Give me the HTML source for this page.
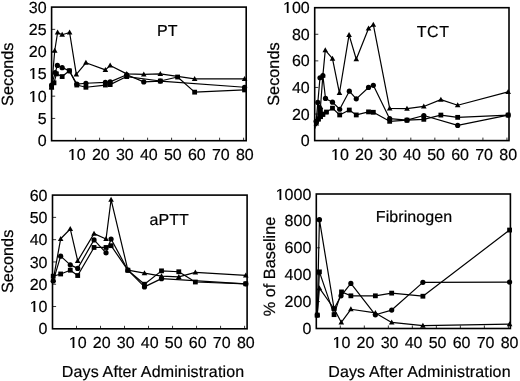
<!DOCTYPE html><html><head><meta charset="utf-8"><style>html,body{margin:0;padding:0;background:#fff;}body{width:520px;height:381px;overflow:hidden;}svg{display:block;filter:grayscale(1);}text{font-family:"Liberation Sans",sans-serif;text-rendering:geometricPrecision;fill:#000;stroke:#000;stroke-width:0.2px;}</style></head><body>
<svg width="520" height="381" viewBox="0 0 520 381">
<rect x="51.6" y="7.1" width="194.6" height="133.6" fill="none" stroke="#000" stroke-width="1.6"/>
<path d="M51.6 118.43h3.6 M51.6 96.17h3.6 M51.6 73.9h3.6 M51.6 51.63h3.6 M51.6 29.37h3.6 M75.6 140.7v-3 M99.6 140.7v-3 M123.6 140.7v-3 M147.6 140.7v-3 M171.6 140.7v-3 M195.6 140.7v-3 M219.6 140.7v-3 M243.6 140.7v-3" stroke="#000" stroke-width="0.8" fill="none"/>
<text x="46.6" y="146" font-size="16" text-anchor="end">0</text>
<text x="46.6" y="124" font-size="16" text-anchor="end">5</text>
<text x="46.6" y="102" font-size="16" text-anchor="end"> 0</text>
<text x="46.6" y="79" font-size="16" text-anchor="end"> 5</text>
<text x="46.6" y="57" font-size="16" text-anchor="end">20</text>
<text x="46.6" y="35" font-size="16" text-anchor="end">25</text>
<text x="46.6" y="13" font-size="16" text-anchor="end">30</text>
<text x="76.8" y="160" font-size="16" text-anchor="middle"> 0</text>
<text x="100.8" y="160" font-size="16" text-anchor="middle">20</text>
<text x="124.8" y="160" font-size="16" text-anchor="middle">30</text>
<text x="148.8" y="160" font-size="16" text-anchor="middle">40</text>
<text x="172.8" y="160" font-size="16" text-anchor="middle">50</text>
<text x="196.8" y="160" font-size="16" text-anchor="middle">60</text>
<text x="220.8" y="160" font-size="16" text-anchor="middle">70</text>
<text x="244.8" y="160" font-size="16" text-anchor="middle">80</text>
<text x="157" y="36.3" font-size="16" letter-spacing="0.08">PT</text>
<text transform="translate(13.3,74.2) rotate(-90)" font-size="16.3" text-anchor="middle">Seconds</text>
<path d="M51.6 87.26 L54.72 50.74 L57.6 32.48 L62.16 34.71 L69.6 32.48 L76.32 74.35 L85.92 62.77 L105.36 69.89 L110.16 65.44 L126.72 73.9 L143.76 74.35 L160.32 73.9 L194.64 78.8 L244.56 78.8" stroke="#000" stroke-width="1.2" fill="none" stroke-linejoin="round"/>
<path d="M51.6 85.03 L55.2 72.56 L57.36 65.44 L62.16 67.67 L69.36 70.78 L76.8 84.14 L85.92 83.25 L105.36 82.36 L110.16 81.92 L126.72 74.79 L143.76 81.92 L160.32 81.03 L244.56 87.26" stroke="#000" stroke-width="1.2" fill="none" stroke-linejoin="round"/>
<path d="M51.6 87.26 L54 82.81 L56.4 73.9 L62.16 76.57 L69.36 70.78 L76.8 85.03 L85.92 87.26 L105.36 85.03 L110.16 84.59 L126.72 76.57 L160.32 81.03 L177.6 77.02 L194.64 92.16 L244.56 89.93" stroke="#000" stroke-width="1.2" fill="none" stroke-linejoin="round"/>
<path d="M51.6 84.36L54.4 89.36L48.8 89.36Z"/>
<path d="M54.72 47.84L57.52 52.84L51.92 52.84Z"/>
<path d="M57.6 29.58L60.4 34.58L54.8 34.58Z"/>
<path d="M62.16 31.81L64.96 36.81L59.36 36.81Z"/>
<path d="M69.6 29.58L72.4 34.58L66.8 34.58Z"/>
<path d="M76.32 71.45L79.12 76.45L73.52 76.45Z"/>
<path d="M85.92 59.87L88.72 64.87L83.12 64.87Z"/>
<path d="M105.36 66.99L108.16 71.99L102.56 71.99Z"/>
<path d="M110.16 62.54L112.96 67.54L107.36 67.54Z"/>
<path d="M126.72 71L129.52 76L123.92 76Z"/>
<path d="M143.76 71.45L146.56 76.45L140.96 76.45Z"/>
<path d="M160.32 71L163.12 76L157.52 76Z"/>
<path d="M194.64 75.9L197.44 80.9L191.84 80.9Z"/>
<path d="M244.56 75.9L247.36 80.9L241.76 80.9Z"/>
<circle cx="51.6" cy="85.03" r="2.6"/>
<circle cx="55.2" cy="72.56" r="2.6"/>
<circle cx="57.36" cy="65.44" r="2.6"/>
<circle cx="62.16" cy="67.67" r="2.6"/>
<circle cx="69.36" cy="70.78" r="2.6"/>
<circle cx="76.8" cy="84.14" r="2.6"/>
<circle cx="85.92" cy="83.25" r="2.6"/>
<circle cx="105.36" cy="82.36" r="2.6"/>
<circle cx="110.16" cy="81.92" r="2.6"/>
<circle cx="126.72" cy="74.79" r="2.6"/>
<circle cx="143.76" cy="81.92" r="2.6"/>
<circle cx="160.32" cy="81.03" r="2.6"/>
<circle cx="244.56" cy="87.26" r="2.6"/>
<rect x="49.2" y="84.86" width="4.8" height="4.8"/>
<rect x="51.6" y="80.41" width="4.8" height="4.8"/>
<rect x="54" y="71.5" width="4.8" height="4.8"/>
<rect x="59.76" y="74.17" width="4.8" height="4.8"/>
<rect x="66.96" y="68.38" width="4.8" height="4.8"/>
<rect x="74.4" y="82.63" width="4.8" height="4.8"/>
<rect x="83.52" y="84.86" width="4.8" height="4.8"/>
<rect x="102.96" y="82.63" width="4.8" height="4.8"/>
<rect x="107.76" y="82.19" width="4.8" height="4.8"/>
<rect x="124.32" y="74.17" width="4.8" height="4.8"/>
<rect x="157.92" y="78.63" width="4.8" height="4.8"/>
<rect x="175.2" y="74.62" width="4.8" height="4.8"/>
<rect x="192.24" y="89.76" width="4.8" height="4.8"/>
<rect x="242.16" y="87.53" width="4.8" height="4.8"/>
<rect x="314.7" y="7.7" width="194.3" height="132.9" fill="none" stroke="#000" stroke-width="1.6"/>
<path d="M314.7 114.02h3.6 M314.7 87.44h3.6 M314.7 60.86h3.6 M314.7 34.28h3.6 M338.73 140.6v-3 M362.76 140.6v-3 M386.79 140.6v-3 M410.82 140.6v-3 M434.85 140.6v-3 M458.88 140.6v-3 M482.91 140.6v-3 M506.94 140.6v-3" stroke="#000" stroke-width="0.8" fill="none"/>
<text x="309.7" y="146" font-size="16" text-anchor="end">0</text>
<text x="309.7" y="120" font-size="16" text-anchor="end">20</text>
<text x="309.7" y="93" font-size="16" text-anchor="end">40</text>
<text x="309.7" y="66" font-size="16" text-anchor="end">60</text>
<text x="309.7" y="40" font-size="16" text-anchor="end">80</text>
<text x="309.7" y="13" font-size="16" text-anchor="end"> 00</text>
<text x="339.93" y="160" font-size="16" text-anchor="middle"> 0</text>
<text x="363.96" y="160" font-size="16" text-anchor="middle">20</text>
<text x="387.99" y="160" font-size="16" text-anchor="middle">30</text>
<text x="412.02" y="160" font-size="16" text-anchor="middle">40</text>
<text x="436.05" y="160" font-size="16" text-anchor="middle">50</text>
<text x="460.08" y="160" font-size="16" text-anchor="middle">60</text>
<text x="484.11" y="160" font-size="16" text-anchor="middle">70</text>
<text x="508.14" y="160" font-size="16" text-anchor="middle">80</text>
<text x="416.8" y="36.6" font-size="16" letter-spacing="0.5">TCT</text>
<text transform="translate(279.3,74.1) rotate(-90)" font-size="16.3" text-anchor="middle">Seconds</text>
<path d="M316.38 123.32 L320.47 106.98 L322.87 75.48 L325.27 50.1 L332.48 58.73 L339.45 93.02 L349.06 34.81 L356.27 59.27 L368.53 28.43 L373.33 24.71 L389.67 108.44 L406.98 108.7 L423.8 106.44 L440.86 99.67 L457.68 105.25 L508.14 91.83" stroke="#000" stroke-width="1.2" fill="none" stroke-linejoin="round"/>
<path d="M316.14 121.33 L317.82 102.46 L319.99 77.74 L322.87 75.48 L325.51 98.47 L332.48 102.19 L339.69 109.24 L349.3 91.16 L356.27 98.87 L368.53 87.44 L373.33 85.31 L389.67 118.67 L406.98 120.13 L423.8 115.48 L457.68 125.45 L508.14 115.08" stroke="#000" stroke-width="1.2" fill="none" stroke-linejoin="round"/>
<path d="M315.42 126.11 L316.38 121.4 L318.3 119 L320.4 116.68 L322.8 114.29 L326.47 112.03 L332.48 108.17 L339.69 114.95 L349.3 110.03 L356.27 114.95 L368.53 111.89 L373.33 112.29 L389.67 121.33 L406.98 120.13 L423.8 119.34 L440.86 115.08 L457.68 117.34 L508.14 115.08" stroke="#000" stroke-width="1.2" fill="none" stroke-linejoin="round"/>
<path d="M317.4 105H319.8L322.8 109V111.8H328V114.3H325.2V116.7H322.8V119H320.7V121.4H318.8V123.8H317.1V126.2H315.7V128.6H314.4V119H317.4Z"/>
<path d="M316.38 120.42L319.18 125.42L313.58 125.42Z"/>
<path d="M320.47 104.08L323.27 109.08L317.67 109.08Z"/>
<path d="M322.87 72.58L325.67 77.58L320.07 77.58Z"/>
<path d="M325.27 47.2L328.07 52.2L322.47 52.2Z"/>
<path d="M332.48 55.83L335.28 60.83L329.68 60.83Z"/>
<path d="M339.45 90.12L342.25 95.12L336.65 95.12Z"/>
<path d="M349.06 31.91L351.86 36.91L346.26 36.91Z"/>
<path d="M356.27 56.37L359.07 61.37L353.47 61.37Z"/>
<path d="M368.53 25.53L371.33 30.53L365.73 30.53Z"/>
<path d="M373.33 21.81L376.13 26.81L370.53 26.81Z"/>
<path d="M389.67 105.54L392.47 110.54L386.87 110.54Z"/>
<path d="M406.98 105.8L409.78 110.8L404.18 110.8Z"/>
<path d="M423.8 103.54L426.6 108.54L421 108.54Z"/>
<path d="M440.86 96.77L443.66 101.77L438.06 101.77Z"/>
<path d="M457.68 102.35L460.48 107.35L454.88 107.35Z"/>
<path d="M508.14 88.93L510.94 93.93L505.34 93.93Z"/>
<circle cx="316.14" cy="121.33" r="2.6"/>
<circle cx="317.82" cy="102.46" r="2.6"/>
<circle cx="319.99" cy="77.74" r="2.6"/>
<circle cx="322.87" cy="75.48" r="2.6"/>
<circle cx="325.51" cy="98.47" r="2.6"/>
<circle cx="332.48" cy="102.19" r="2.6"/>
<circle cx="339.69" cy="109.24" r="2.6"/>
<circle cx="349.3" cy="91.16" r="2.6"/>
<circle cx="356.27" cy="98.87" r="2.6"/>
<circle cx="368.53" cy="87.44" r="2.6"/>
<circle cx="373.33" cy="85.31" r="2.6"/>
<circle cx="389.67" cy="118.67" r="2.6"/>
<circle cx="406.98" cy="120.13" r="2.6"/>
<circle cx="423.8" cy="115.48" r="2.6"/>
<circle cx="457.68" cy="125.45" r="2.6"/>
<circle cx="508.14" cy="115.08" r="2.6"/>
<rect x="313.98" y="119" width="4.8" height="4.8"/>
<rect x="315.9" y="116.6" width="4.8" height="4.8"/>
<rect x="318" y="114.28" width="4.8" height="4.8"/>
<rect x="320.4" y="111.89" width="4.8" height="4.8"/>
<rect x="324.07" y="109.63" width="4.8" height="4.8"/>
<rect x="330.08" y="105.77" width="4.8" height="4.8"/>
<rect x="337.29" y="112.55" width="4.8" height="4.8"/>
<rect x="346.9" y="107.63" width="4.8" height="4.8"/>
<rect x="353.87" y="112.55" width="4.8" height="4.8"/>
<rect x="366.13" y="109.49" width="4.8" height="4.8"/>
<rect x="370.93" y="109.89" width="4.8" height="4.8"/>
<rect x="387.27" y="118.93" width="4.8" height="4.8"/>
<rect x="404.58" y="117.73" width="4.8" height="4.8"/>
<rect x="421.4" y="116.94" width="4.8" height="4.8"/>
<rect x="438.46" y="112.68" width="4.8" height="4.8"/>
<rect x="455.28" y="114.94" width="4.8" height="4.8"/>
<rect x="505.74" y="112.68" width="4.8" height="4.8"/>
<rect x="52.5" y="195.1" width="194.6" height="133.7" fill="none" stroke="#000" stroke-width="1.6"/>
<path d="M52.5 306.52h3.6 M52.5 284.23h3.6 M52.5 261.95h3.6 M52.5 239.67h3.6 M52.5 217.38h3.6 M76.51 328.8v-3 M100.52 328.8v-3 M124.53 328.8v-3 M148.54 328.8v-3 M172.55 328.8v-3 M196.56 328.8v-3 M220.57 328.8v-3 M244.58 328.8v-3" stroke="#000" stroke-width="0.8" fill="none"/>
<text x="47.5" y="334" font-size="16" text-anchor="end">0</text>
<text x="47.5" y="312" font-size="16" text-anchor="end"> 0</text>
<text x="47.5" y="290" font-size="16" text-anchor="end">20</text>
<text x="47.5" y="268" font-size="16" text-anchor="end">30</text>
<text x="47.5" y="245" font-size="16" text-anchor="end">40</text>
<text x="47.5" y="223" font-size="16" text-anchor="end">50</text>
<text x="47.5" y="201" font-size="16" text-anchor="end">60</text>
<text x="77.71" y="348" font-size="16" text-anchor="middle"> 0</text>
<text x="101.72" y="348" font-size="16" text-anchor="middle">20</text>
<text x="125.73" y="348" font-size="16" text-anchor="middle">30</text>
<text x="149.74" y="348" font-size="16" text-anchor="middle">40</text>
<text x="173.75" y="348" font-size="16" text-anchor="middle">50</text>
<text x="197.76" y="348" font-size="16" text-anchor="middle">60</text>
<text x="221.77" y="348" font-size="16" text-anchor="middle">70</text>
<text x="245.78" y="348" font-size="16" text-anchor="middle">80</text>
<text x="149.5" y="224.8" font-size="16" letter-spacing="0.08">aPTT</text>
<text transform="translate(13,261.4) rotate(-90)" font-size="16.3" text-anchor="middle">Seconds</text>
<path d="M53.22 279.78 L60.66 238.78 L70.27 228.97 L77.71 260.84 L94.04 233.65 L106.04 239 L111.08 199.56 L127.89 270.19 L144.46 273.09 L161.51 276.21 L178.79 276.88 L195.36 272.42 L245.78 275.32" stroke="#000" stroke-width="1.2" fill="none" stroke-linejoin="round"/>
<path d="M53.22 280.89 L60.66 256.16 L70.27 264.85 L77.71 268.41 L94.04 239.89 L106.04 252.81 L111.08 239 L127.89 270.19 L144.46 286.91 L161.51 278.66 L245.78 283.79" stroke="#000" stroke-width="1.2" fill="none" stroke-linejoin="round"/>
<path d="M53.22 276.21 L60.66 273.98 L70.27 270.19 L77.71 275.54 L94.04 247.47 L106.04 247.47 L111.08 245.68 L127.89 270.19 L144.46 284.23 L161.51 270.86 L178.79 271.75 L195.36 282 L245.78 283.79" stroke="#000" stroke-width="1.2" fill="none" stroke-linejoin="round"/>
<path d="M53.22 276.88L56.02 281.88L50.42 281.88Z"/>
<path d="M60.66 235.88L63.46 240.88L57.86 240.88Z"/>
<path d="M70.27 226.07L73.07 231.07L67.47 231.07Z"/>
<path d="M77.71 257.94L80.51 262.94L74.91 262.94Z"/>
<path d="M94.04 230.75L96.84 235.75L91.24 235.75Z"/>
<path d="M106.04 236.1L108.84 241.1L103.24 241.1Z"/>
<path d="M111.08 196.66L113.88 201.66L108.28 201.66Z"/>
<path d="M127.89 267.29L130.69 272.29L125.09 272.29Z"/>
<path d="M144.46 270.19L147.26 275.19L141.66 275.19Z"/>
<path d="M161.51 273.31L164.31 278.31L158.71 278.31Z"/>
<path d="M178.79 273.98L181.59 278.98L175.99 278.98Z"/>
<path d="M195.36 269.52L198.16 274.52L192.56 274.52Z"/>
<path d="M245.78 272.42L248.58 277.42L242.98 277.42Z"/>
<circle cx="53.22" cy="280.89" r="2.6"/>
<circle cx="60.66" cy="256.16" r="2.6"/>
<circle cx="70.27" cy="264.85" r="2.6"/>
<circle cx="77.71" cy="268.41" r="2.6"/>
<circle cx="94.04" cy="239.89" r="2.6"/>
<circle cx="106.04" cy="252.81" r="2.6"/>
<circle cx="111.08" cy="239" r="2.6"/>
<circle cx="127.89" cy="270.19" r="2.6"/>
<circle cx="144.46" cy="286.91" r="2.6"/>
<circle cx="161.51" cy="278.66" r="2.6"/>
<circle cx="245.78" cy="283.79" r="2.6"/>
<rect x="50.82" y="273.81" width="4.8" height="4.8"/>
<rect x="58.26" y="271.58" width="4.8" height="4.8"/>
<rect x="67.87" y="267.79" width="4.8" height="4.8"/>
<rect x="75.31" y="273.14" width="4.8" height="4.8"/>
<rect x="91.64" y="245.07" width="4.8" height="4.8"/>
<rect x="103.64" y="245.07" width="4.8" height="4.8"/>
<rect x="108.68" y="243.28" width="4.8" height="4.8"/>
<rect x="125.49" y="267.79" width="4.8" height="4.8"/>
<rect x="142.06" y="281.83" width="4.8" height="4.8"/>
<rect x="159.11" y="268.46" width="4.8" height="4.8"/>
<rect x="176.39" y="269.35" width="4.8" height="4.8"/>
<rect x="192.96" y="279.61" width="4.8" height="4.8"/>
<rect x="243.38" y="281.39" width="4.8" height="4.8"/>
<rect x="316.3" y="194" width="194.1" height="134.5" fill="none" stroke="#000" stroke-width="1.6"/>
<path d="M316.3 301.6h3.6 M316.3 274.7h3.6 M316.3 247.8h3.6 M316.3 220.9h3.6 M340.31 328.5v-3 M364.32 328.5v-3 M388.33 328.5v-3 M412.34 328.5v-3 M436.35 328.5v-3 M460.36 328.5v-3 M484.37 328.5v-3 M508.38 328.5v-3" stroke="#000" stroke-width="0.8" fill="none"/>
<text x="311.3" y="334" font-size="16" text-anchor="end">0</text>
<text x="311.3" y="307" font-size="16" text-anchor="end">200</text>
<text x="311.3" y="280" font-size="16" text-anchor="end">400</text>
<text x="311.3" y="253" font-size="16" text-anchor="end">600</text>
<text x="311.3" y="226" font-size="16" text-anchor="end">800</text>
<text x="311.3" y="200" font-size="16" text-anchor="end"> 000</text>
<text x="341.51" y="348" font-size="16" text-anchor="middle"> 0</text>
<text x="365.52" y="348" font-size="16" text-anchor="middle">20</text>
<text x="389.53" y="348" font-size="16" text-anchor="middle">30</text>
<text x="413.54" y="348" font-size="16" text-anchor="middle">40</text>
<text x="437.55" y="348" font-size="16" text-anchor="middle">50</text>
<text x="461.56" y="348" font-size="16" text-anchor="middle">60</text>
<text x="485.57" y="348" font-size="16" text-anchor="middle">70</text>
<text x="509.58" y="348" font-size="16" text-anchor="middle">80</text>
<text x="375.8" y="221.5" font-size="16" letter-spacing="0.08">Fibrinogen</text>
<text transform="translate(274.7,266.5) rotate(-90)" font-size="16.3" text-anchor="middle">% of Baseline</text>
<path d="M317.26 315.05 L319.42 288.15 L334.07 308.73 L341.27 322.31 L350.87 309.27 L375.36 312.9 L391.69 322.45 L422.9 325.54 L509.58 324.06" stroke="#000" stroke-width="1.2" fill="none" stroke-linejoin="round"/>
<path d="M317.26 315.05 L319.42 219.69 L334.07 308.73 L341.03 295.82 L350.87 283.44 L375.36 314.78 L391.69 310.07 L422.9 282.37 L509.58 282.1" stroke="#000" stroke-width="1.2" fill="none" stroke-linejoin="round"/>
<path d="M317.26 315.05 L319.42 271.88 L334.07 314.65 L341.51 291.92 L350.87 295.82 L375.36 295.82 L391.69 293.13 L422.9 296.22 L509.58 230.05" stroke="#000" stroke-width="1.2" fill="none" stroke-linejoin="round"/>
<path d="M317.26 312.15L320.06 317.15L314.46 317.15Z"/>
<path d="M319.42 285.25L322.22 290.25L316.62 290.25Z"/>
<path d="M334.07 305.83L336.87 310.83L331.27 310.83Z"/>
<path d="M341.27 319.41L344.07 324.41L338.47 324.41Z"/>
<path d="M350.87 306.37L353.67 311.37L348.07 311.37Z"/>
<path d="M375.36 310L378.16 315L372.56 315Z"/>
<path d="M391.69 319.55L394.49 324.55L388.89 324.55Z"/>
<path d="M422.9 322.64L425.7 327.64L420.1 327.64Z"/>
<path d="M509.58 321.16L512.38 326.16L506.78 326.16Z"/>
<circle cx="317.26" cy="315.05" r="2.6"/>
<circle cx="319.42" cy="219.69" r="2.6"/>
<circle cx="334.07" cy="308.73" r="2.6"/>
<circle cx="341.03" cy="295.82" r="2.6"/>
<circle cx="350.87" cy="283.44" r="2.6"/>
<circle cx="375.36" cy="314.78" r="2.6"/>
<circle cx="391.69" cy="310.07" r="2.6"/>
<circle cx="422.9" cy="282.37" r="2.6"/>
<circle cx="509.58" cy="282.1" r="2.6"/>
<rect x="314.86" y="312.65" width="4.8" height="4.8"/>
<rect x="317.02" y="269.48" width="4.8" height="4.8"/>
<rect x="331.67" y="312.25" width="4.8" height="4.8"/>
<rect x="339.11" y="289.52" width="4.8" height="4.8"/>
<rect x="348.47" y="293.42" width="4.8" height="4.8"/>
<rect x="372.96" y="293.42" width="4.8" height="4.8"/>
<rect x="389.29" y="290.73" width="4.8" height="4.8"/>
<rect x="420.5" y="293.82" width="4.8" height="4.8"/>
<rect x="507.18" y="227.65" width="4.8" height="4.8"/>
<text x="61.8" y="376.6" font-size="16" letter-spacing="0.15">Days After Administration</text>
<text x="328.2" y="376.6" font-size="16" letter-spacing="0.15">Days After Administration</text>
<path d="M32.59 102 32.59 92.51 30.21 94.15 30.21 92.7 32.94 90.91 34.39 90.91 34.39 102Z M32.59 79 32.59 69.51 30.21 71.15 30.21 69.7 32.94 67.91 34.39 67.91 34.39 79Z M71.69 160 71.69 150.51 69.31 152.15 69.31 150.7 72.04 148.91 73.49 148.91 73.49 160Z M286.79 13 286.79 3.51 284.41 5.15 284.41 3.7 287.15 1.91 288.59 1.91 288.59 13Z M334.82 160 334.82 150.51 332.44 152.15 332.44 150.7 335.17 148.91 336.62 148.91 336.62 160Z M33.49 312 33.49 302.51 31.11 304.15 31.11 302.7 33.84 300.91 35.29 300.91 35.29 312Z M72.6 348 72.6 338.51 70.22 340.15 70.22 338.7 72.95 336.91 74.4 336.91 74.4 348Z M279.5 200 279.5 190.51 277.11 192.15 277.11 190.7 279.85 188.91 281.29 188.91 281.29 200Z M336.4 348 336.4 338.51 334.02 340.15 334.02 338.7 336.75 336.91 338.2 336.91 338.2 348Z"/>
</svg></body></html>
